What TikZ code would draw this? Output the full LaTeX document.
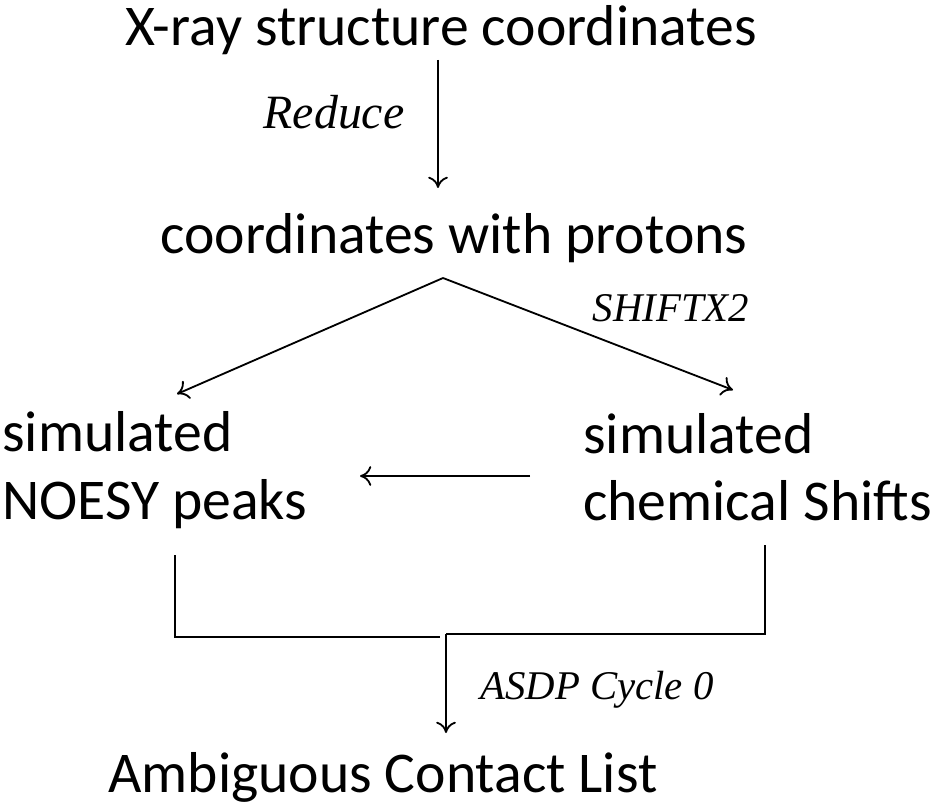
\documentclass[tikz,border=0pt]{standalone}
\usepackage{fontspec}
\setmainfont{Carlito}
\newfontfamily\labelfont{Liberation Serif}
\usepackage{tikz}
\usetikzlibrary{shapes,arrows,arrows.meta,fit,positioning}

\tikzset{
  stage/.style={font=\fontsize{41}{48}\selectfont, inner sep=0pt},
  steplabel/.style={font=\labelfont\itshape\fontsize{29}{34}\selectfont, inner sep=0pt},
  flow/.style={draw, line width=1.3pt, -{To[length=8pt,width=14pt]}},
  merge/.style={draw, line width=1.3pt}
}

\begin{document}
\begin{tikzpicture}[x=0.025cm, y=-0.025cm]
\useasboundingbox (0,0) rectangle (932,807);

% stages
\node[stage] (xray) at (441,30) {X-ray structure coordinates};
\node[stage] (prot) at (454,238) {coordinates with protons};
\node[stage, align=left, anchor=west] (noesy) at (2,470) {simulated\\NOESY peaks};
\node[stage, align=left, anchor=west] (shift) at (583,467) {simulated\\chemical Shifts};
\node[stage] (acl) at (383,777) {Ambiguous Contact List};

% step labels
\node[steplabel, font=\labelfont\itshape\fontsize{34}{39}\selectfont] (reduce) at (334,112) {Reduce};
\node[steplabel] (shiftx) at (671,308) {SHIFTX2};
\node[steplabel] (asdp) at (597,690) {ASDP Cycle 0};

% connectors
\coordinate (split) at (443,278);
\coordinate (noesytip) at (177,394);
\coordinate (shifttip) at (733,390);
\coordinate (meetl) at (440,637);
\coordinate (meetr) at (446,634);
\draw[flow] (438,60) -- (438,188);
\draw[flow] (split) -- (noesytip);
\draw[flow] (split) -- (shifttip);
\draw[flow] (530,476) -- (360,476);
\draw[merge] (175,555) |- (meetl);
\draw[merge] (765,545) |- (meetr);
\draw[flow] (meetr) -- (446,733);
\end{tikzpicture}
\end{document}
